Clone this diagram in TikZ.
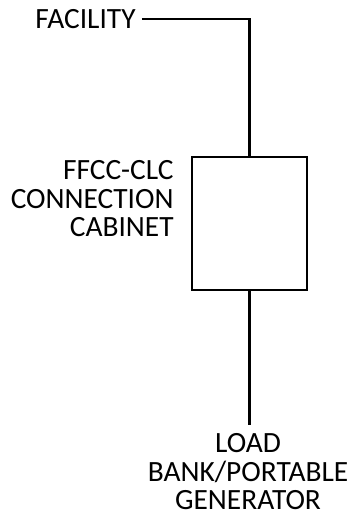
\documentclass[tikz,border=0pt]{standalone}
\usepackage{fontspec}
\setmainfont{Carlito}
\usetikzlibrary{positioning}
\begin{document}
\begin{tikzpicture}[x=0.5pt,y=-0.5pt,
  lbl/.style={inner sep=0pt, font=\fontsize{14.7}{14.3}\selectfont},
  wire/.style={line width=1.2pt}]
\useasboundingbox (0,0) rectangle (350,516);
\def \lw {1.2pt}
% cabinet box
\node[draw, line width=\lw, minimum width=57.5pt, minimum height=66.3pt,
  inner sep=0pt, anchor=north west] (cab) at (191,156) {};
\node[lbl, anchor=east] (fac) at (136,19) {FACILITY};
\node[lbl, align=right, anchor=north east] (cablbl) at (174,160) {FFCC-CLC\\CONNECTION\\CABINET};
\node[lbl, align=center, anchor=north] (load) at (248,433) {LOAD\\BANK/PORTABLE\\GENERATOR};
% wires
\draw[wire] ([xshift=3pt]fac.east) -| (cab.north);
\draw[wire] (cab.south) -- ([yshift=4pt]cab.south |- load.north);
\end{tikzpicture}
\end{document}
